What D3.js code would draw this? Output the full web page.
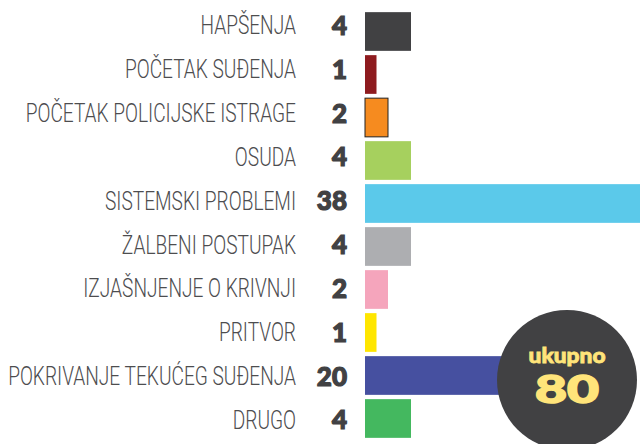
<!DOCTYPE html>
<html>
<head>
<meta charset="utf-8">
<script src="https://cdn.jsdelivr.net/npm/d3@7"></script>
<style>
  body { margin: 0; background: #fff; }
  svg { display: block; }
</style>
</head>
<body>
<div id="chart"></div>
<script>
// data
const categories = ["HAPŠENJA", "POČETAK SUĐENJA", "POČETAK POLICIJSKE ISTRAGE", "OSUDA",
  "SISTEMSKI PROBLEMI", "ŽALBENI POSTUPAK", "IZJAŠNJENJE O KRIVNJI", "PRITVOR",
  "POKRIVANJE TEKUĆEG SUĐENJA", "DRUGO"];
const values = [4, 1, 2, 4, 38, 4, 2, 1, 20, 4];
const colors = ["#414143", "#8e1b1f", "#f68b1f", "#a6d05e", "#5bc9ea", "#adaeb1",
  "#f5a5bc", "#ffe600", "#4650a0", "#44b85f"];
const totalLabel = "ukupno";
const total = 80;

var width = 640, height = 444;

var svg = d3.select("#chart")
  .append("svg")
  .attr("width", width)
  .attr("height", height);

var x = d3.scaleLinear()
  .domain([0, 38])
  .range([365, 365 + 437]);

// bars
var y = d3.scaleBand()
  .domain(categories)
  .range([10, 440])
  .paddingInner(0.1)
  .paddingOuter(0.05);

// text rows sit on a slightly different pitch than the bars
var yText = d3.scalePoint()
  .domain(categories)
  .range([25.5, 420]);

svg.selectAll("rect.bar")
  .data(values)
  .enter()
  .append("rect")
    .attr("class", "bar")
    .attr("x", x(0))
    .attr("y", (d, i) => y(categories[i]))
    .attr("width", d => x(d) - x(0))
    .attr("height", y.bandwidth())
    .style("fill", (d, i) => colors[i])
    .style("stroke", (d, i) => i == 2 ? "#222" : "none")
    .style("stroke-width", 1);

// category labels (thin, condensed look: squeeze horizontally)
var cats = svg.append("g");
cats.selectAll("text.cat")
  .data(categories)
  .enter()
  .append("text")
    .attr("class", "cat")
    .attr("y", d => yText(d))
    .attr("dy", "0.355em")
    .attr("text-anchor", "end")
    .style("font-family", "Roboto, 'Open Sans', sans-serif")
    .style("font-weight", 300)
    .style("font-size", "25px")
    .style("fill", "#4d4d4f")
    .text(d => d);

var longest = d3.max(cats.selectAll("text.cat").nodes(), n => n.getComputedTextLength());
cats.attr("transform", "translate(296,0) scale(" + (288 / longest) + ",1)");

// value labels
svg.selectAll("text.val")
  .data(values)
  .enter()
  .append("text")
    .attr("class", "val")
    .attr("x", 347)
    .attr("y", (d, i) => yText(categories[i]))
    .attr("dy", "0.36em")
    .attr("text-anchor", "end")
    .style("font-family", "Lato, 'DejaVu Sans', sans-serif")
    .style("font-weight", 900)
    .style("font-size", "26px")
    .style("fill", "#414143")
    .style("stroke", "#414143")
    .style("stroke-width", 1.2)
    .text(d => d);

// total badge
var badge = svg.append("g").attr("transform", "translate(567,380)");
badge.append("circle")
  .attr("r", 70)
  .style("fill", "#414143");

function squeezeTo(sel, target) {
  var w = sel.node().getComputedTextLength();
  sel.attr("transform", "scale(" + (target / w) + ",1)");
}

var t1 = badge.append("text")
  .attr("y", -17)
  .attr("text-anchor", "middle")
  .style("font-family", "Lato, sans-serif")
  .style("font-weight", 900)
  .style("font-size", "21px")
  .style("fill", "#ffe47a")
  .style("stroke", "#ffe47a")
  .style("stroke-width", 0.8)
  .text(totalLabel);
squeezeTo(t1, 77);

var t2 = badge.append("text")
  .attr("y", 23)
  .attr("text-anchor", "middle")
  .style("font-family", "Lato, sans-serif")
  .style("font-weight", 900)
  .style("font-size", "38px")
  .style("fill", "#ffe47a")
  .style("stroke", "#ffe47a")
  .style("stroke-width", 1.5)
  .text(total);
squeezeTo(t2, 64);
</script>
</body>
</html>
